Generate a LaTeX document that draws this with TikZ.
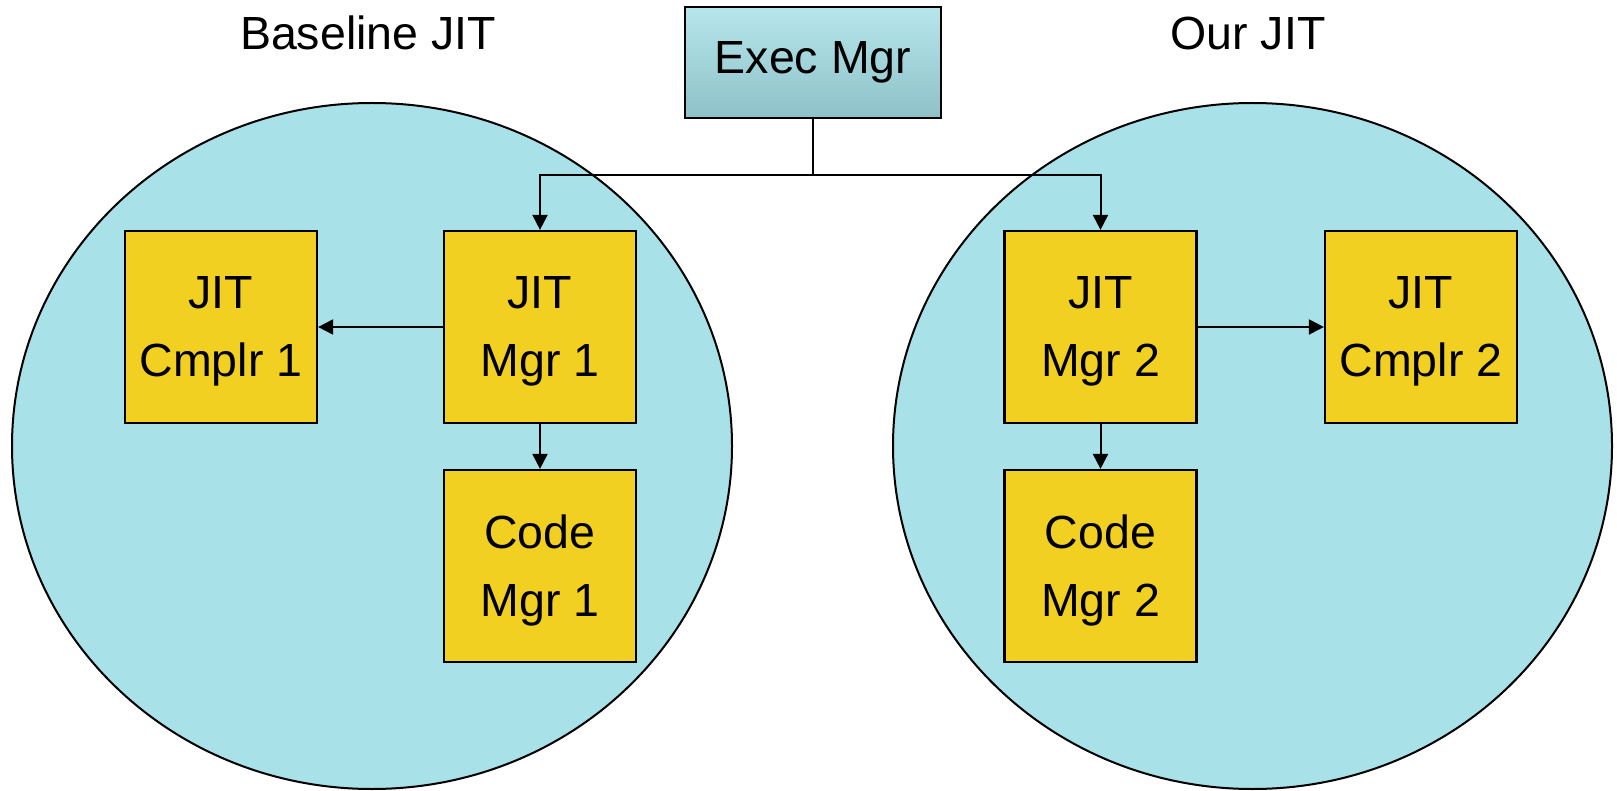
\documentclass[tikz,border=0pt]{standalone}
\usepackage{fontspec}
\setmainfont{Liberation Sans}
\usetikzlibrary{arrows.meta}
\definecolor{poolcyan}{HTML}{A9E1E8}
\definecolor{unityellow}{HTML}{F2D022}
\definecolor{mgrtop}{HTML}{B6E6EC}
\definecolor{mgrbot}{HTML}{8EC1C8}
\tikzset{
  unit/.style={draw=black, line width=2.2pt, fill=unityellow, minimum width=192pt,
    minimum height=192pt, inner sep=0pt, align=center, text depth=0pt,
    font=\fontsize{46.5}{68}\selectfont},
  pool/.style={draw=black, line width=2pt, fill=poolcyan},
  title/.style={font=\fontsize{46.5}{54}\selectfont, inner sep=0pt},
  link/.style={line width=2pt, -{Triangle[length=15pt,width=15pt]}},
  plain/.style={line width=2pt}
}
\begin{document}
\begin{tikzpicture}[x=1pt,y=-1pt]
  \useasboundingbox (0,0) rectangle (1617,791);
  % the two JIT domains
  \draw[pool] (372,446) ellipse [x radius=360, y radius=343];
  \draw[pool] (1252.5,446) ellipse [x radius=359.5, y radius=343];
  % titles
  \node[title] (tbase) at (368,33) {Baseline JIT};
  \node[title] (tours) at (1248,33) {Our JIT};
  % execution manager
  \node[draw=black, line width=2.2pt, top color=mgrtop, bottom color=mgrbot,
        minimum width=256pt, minimum height=111pt, inner sep=0pt,
        font=\fontsize{46.5}{54}\selectfont] (exec) at (813,62.5) {Exec Mgr};
  % baseline side
  \node[unit] (cmp1) at (221,327) {JIT\\Cmplr 1};
  \node[unit] (jm1) at (540,327) {JIT\\Mgr 1};
  \node[unit] (cm1) at (540,566) {Code\\Mgr 1};
  % our side
  \node[unit] (jm2) at (1100.5,327) {JIT\\Mgr 2};
  \node[unit] (cmp2) at (1421,327) {JIT\\Cmplr 2};
  \node[unit] (cm2) at (1100.5,566) {Code\\Mgr 2};
  % connectors
  \draw[plain] (exec.south) -- ++(0,56) coordinate (bus);
  \draw[link] (bus) -| (jm1.north);
  \draw[link] (bus) -| (jm2.north);
  \draw[link] (jm1.west) -- (cmp1.east);
  \draw[link] (jm1.south) -- (cm1.north);
  \draw[link] (jm2.east) -- (cmp2.west);
  \draw[link] (jm2.south) -- (cm2.north);
\end{tikzpicture}
\end{document}
